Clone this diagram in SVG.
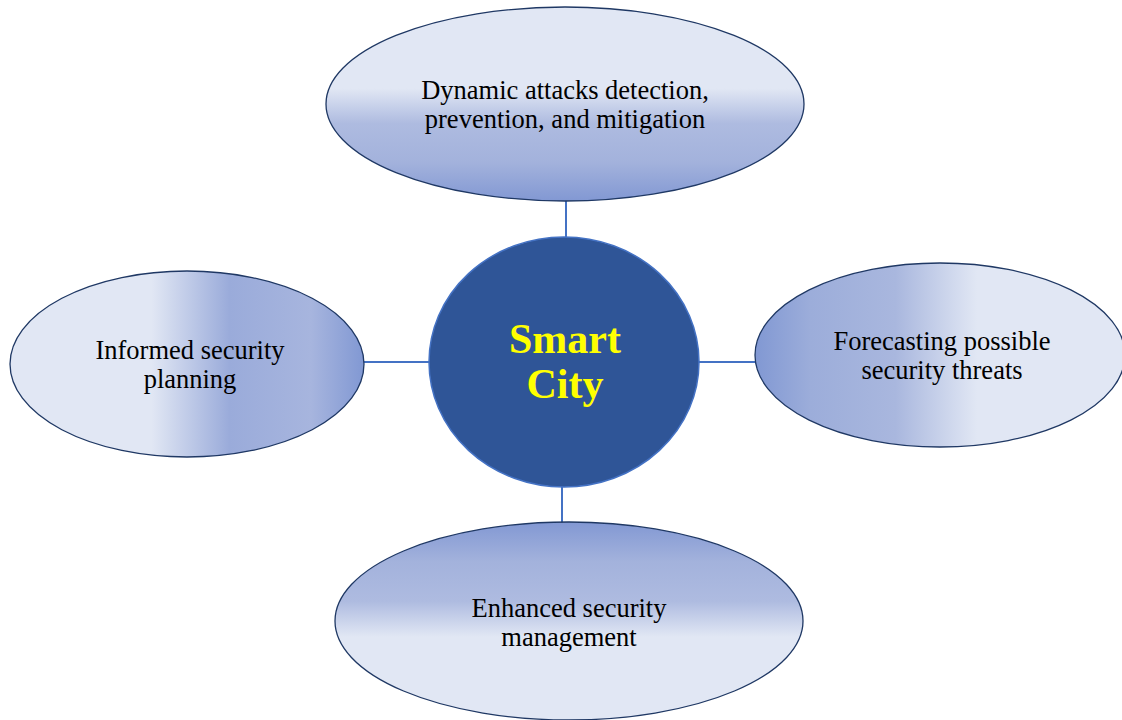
<svg xmlns="http://www.w3.org/2000/svg" width="1122" height="720" viewBox="0 0 1122 720">
  <defs>
    <linearGradient id="gradDown" x1="0" y1="0" x2="0" y2="1">
      <stop offset="0" stop-color="#e1e7f4"/>
      <stop offset="0.42" stop-color="#e1e7f4"/>
      <stop offset="0.6" stop-color="#aebbe0"/>
      <stop offset="0.8" stop-color="#a3b2dc"/>
      <stop offset="1" stop-color="#8298d3"/>
    </linearGradient>
    <linearGradient id="gradUp" x1="0" y1="1" x2="0" y2="0">
      <stop offset="0" stop-color="#e1e7f4"/>
      <stop offset="0.42" stop-color="#e1e7f4"/>
      <stop offset="0.6" stop-color="#aebbe0"/>
      <stop offset="0.8" stop-color="#a3b2dc"/>
      <stop offset="1" stop-color="#8298d3"/>
    </linearGradient>
    <linearGradient id="gradRight" x1="0" y1="0" x2="1" y2="0">
      <stop offset="0" stop-color="#e1e7f4"/>
      <stop offset="0.4" stop-color="#e1e7f4"/>
      <stop offset="0.62" stop-color="#9aabda"/>
      <stop offset="0.85" stop-color="#a7b5de"/>
      <stop offset="1" stop-color="#8198d3"/>
    </linearGradient>
    <linearGradient id="gradLeft" x1="1" y1="0" x2="0" y2="0">
      <stop offset="0" stop-color="#e1e7f4"/>
      <stop offset="0.4" stop-color="#e1e7f4"/>
      <stop offset="0.62" stop-color="#a9b7de"/>
      <stop offset="0.85" stop-color="#9cadda"/>
      <stop offset="1" stop-color="#8198d3"/>
    </linearGradient>
  </defs>
  <style>
    .leaf { stroke: #1f3864; stroke-width: 1.3; }
    .label { font-family: "Liberation Serif", "Times New Roman", serif; font-size: 26.5px; fill: #000; text-anchor: middle; }
    .hub { fill: #2f5597; stroke: #4472c4; stroke-width: 1.5; }
    .hubText { font-family: "Liberation Serif", "Times New Roman", serif; font-size: 42px; font-weight: bold; fill: #ffff00; text-anchor: middle; }
    .link { stroke: #4472c4; stroke-width: 2; fill: none; }
  </style>
  <rect width="1122" height="720" fill="#ffffff"/>

  <g id="connectors">
    <line class="link" x1="566" y1="201" x2="566" y2="238"/>
    <line class="link" x1="364" y1="362" x2="430" y2="362"/>
    <line class="link" x1="699" y1="362" x2="756" y2="362"/>
    <line class="link" x1="562" y1="486" x2="562" y2="523"/>
  </g>

  <g id="node-top">
    <ellipse class="leaf" cx="565" cy="104" rx="239" ry="97" fill="url(#gradDown)"/>
    <text class="label" x="565" y="99">Dynamic attacks detection,</text>
    <text class="label" x="565" y="128">prevention, and mitigation</text>
  </g>

  <g id="node-left">
    <ellipse class="leaf" cx="187" cy="364" rx="177" ry="93" fill="url(#gradRight)"/>
    <text class="label" x="190" y="359">Informed security</text>
    <text class="label" x="190" y="388">planning</text>
  </g>

  <g id="node-right">
    <ellipse class="leaf" cx="940" cy="355" rx="185" ry="92" fill="url(#gradLeft)"/>
    <text class="label" x="942" y="350">Forecasting possible</text>
    <text class="label" x="942" y="379">security threats</text>
  </g>

  <g id="node-bottom">
    <ellipse class="leaf" cx="569" cy="621" rx="234" ry="99" fill="url(#gradUp)"/>
    <text class="label" x="569" y="617">Enhanced security</text>
    <text class="label" x="569" y="646">management</text>
  </g>

  <g id="node-center">
    <ellipse class="hub" cx="564" cy="362" rx="135" ry="125"/>
    <text class="hubText" x="565" y="353">Smart</text>
    <text class="hubText" x="565" y="398">City</text>
  </g>
</svg>
